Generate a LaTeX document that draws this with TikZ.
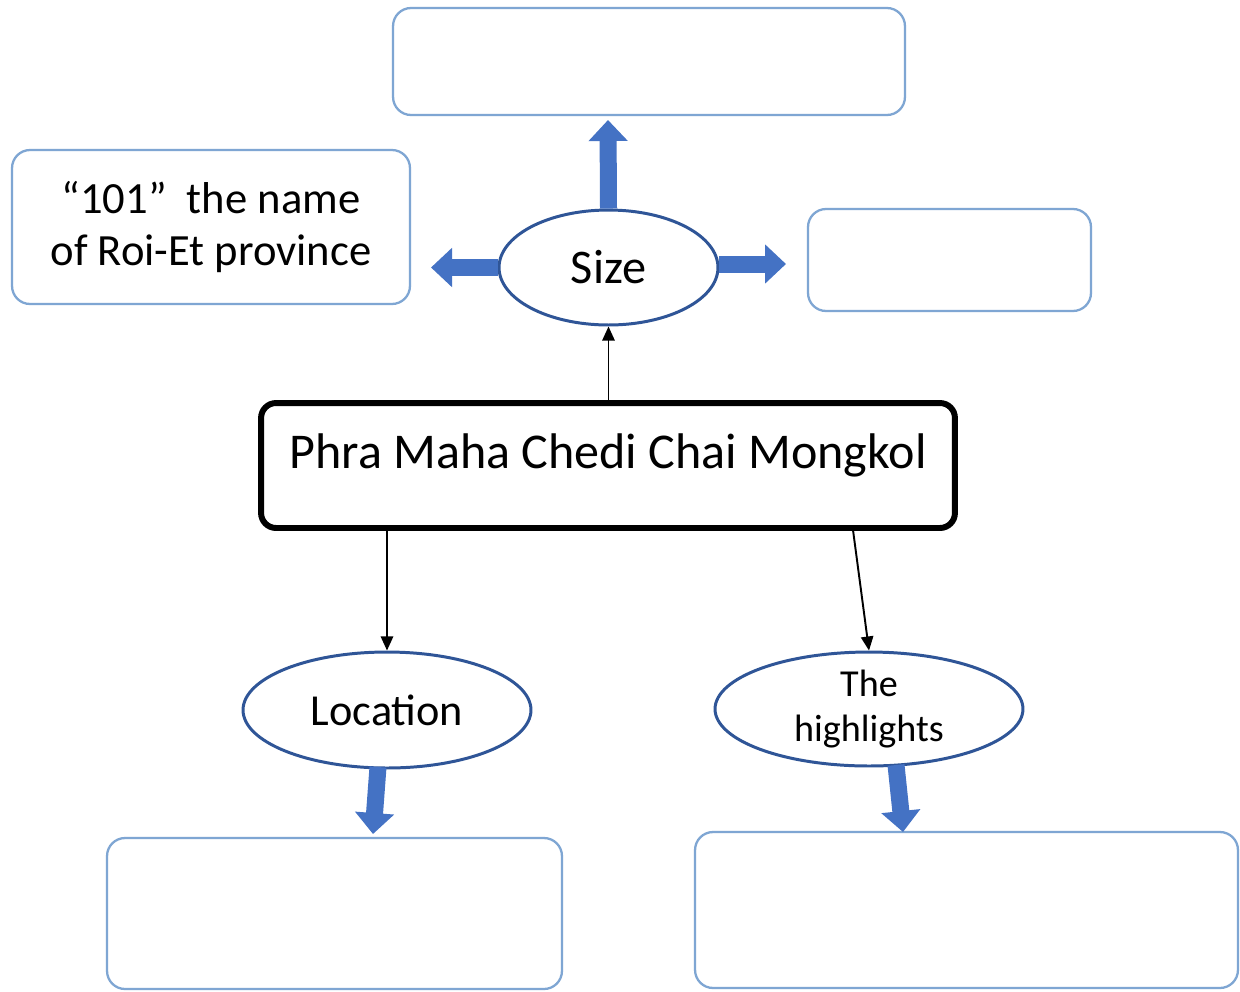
\documentclass[tikz,border=0pt]{standalone}
\usepackage{fontspec}
\setmainfont{Carlito}
\usetikzlibrary{arrows.meta,shapes.geometric}
\definecolor{boxblue}{HTML}{7FA6D3}
\definecolor{ellblue}{HTML}{2F5597}
\definecolor{arrblue}{HTML}{4472C4}
\tikzset{
  x=0.02cm,y=-0.02cm,
  lbox/.style={draw=boxblue,line width=1.3pt,rounded corners=0.36cm,fill=white,align=center,inner sep=0pt},
  ell/.style={ellipse,draw=ellblue,line width=1.7pt,fill=white,align=center,inner sep=0pt},
  mainbox/.style={draw=black,line width=3.4pt,rounded corners=0.3cm,fill=white,inner sep=0pt},
  blockarr/.style={draw=arrblue,line width=0.34cm,-{Triangle[width=0.76cm,length=0.42cm]}},
  thinarr/.style={draw=black,line width=1.1pt,-{Triangle[width=7pt,length=8pt]}}
}
\begin{document}
\begin{tikzpicture}
\useasboundingbox[fill=white] (0,0) rectangle (1240,991);
\clip (0,0) rectangle (1240,991);
\node[lbox,minimum width=10.24cm,minimum height=2.14cm] (top) at (649,61.5) {};
\node[lbox,minimum width=7.96cm,minimum height=3.08cm,font=\fontsize{25.4}{30}\selectfont] (left) at (211,227) {“101”\ \ the name\\of Roi-Et province};
\node[lbox,minimum width=5.66cm,minimum height=2.04cm] (right) at (949.5,260) {};
\node[ell,minimum width=4.38cm,minimum height=2.3cm,font=\fontsize{27.5}{32}\selectfont] (size) at (608.5,267.5) {Size};
\node[mainbox,minimum width=13.88cm,minimum height=2.5cm,text height=0.6cm,text depth=0.5cm,font=\fontsize{28.5}{34}\selectfont] (main) at (608,465.5) {Phra Maha Chedi Chai Mongkol};
\node[ell,minimum width=5.76cm,minimum height=2.32cm,font=\fontsize{25.2}{30}\selectfont] (loc) at (387,710) {Location};
\node[ell,minimum width=6.16cm,minimum height=2.28cm,font=\fontsize{21.7}{26}\selectfont] (hl) at (869,709) {The\\highlights};
\node[lbox,minimum width=9.1cm,minimum height=3.02cm] (bl) at (334.5,913.5) {};
\node[lbox,minimum width=10.86cm,minimum height=3.12cm] (br) at (966.5,910) {};
% block arrows
\coordinate (upA) at (608,120);
\coordinate (leftA) at (431,267.5);
\coordinate (rightA) at (786,264);
\coordinate (locS) at (378,767);
\coordinate (locA) at (373,834);
\coordinate (hlS) at (896,765);
\coordinate (hlA) at (903,832);
\draw[blockarr] (size.north) -- (upA);
\draw[blockarr] (size.west) -- (leftA);
\draw[blockarr] (size.east |- rightA) -- (rightA);
\draw[blockarr] (locS) -- (locA);
\draw[blockarr] (hlS) -- (hlA);
% thin arrows
\draw[thinarr] (main.north -| size.south) -- (size.south);
\draw[thinarr] (main.south -| loc.north) -- (loc.north);
\coordinate (mainHl) at (853,530);
\draw[thinarr] (mainHl) -- (hl.north);
\end{tikzpicture}
\end{document}
